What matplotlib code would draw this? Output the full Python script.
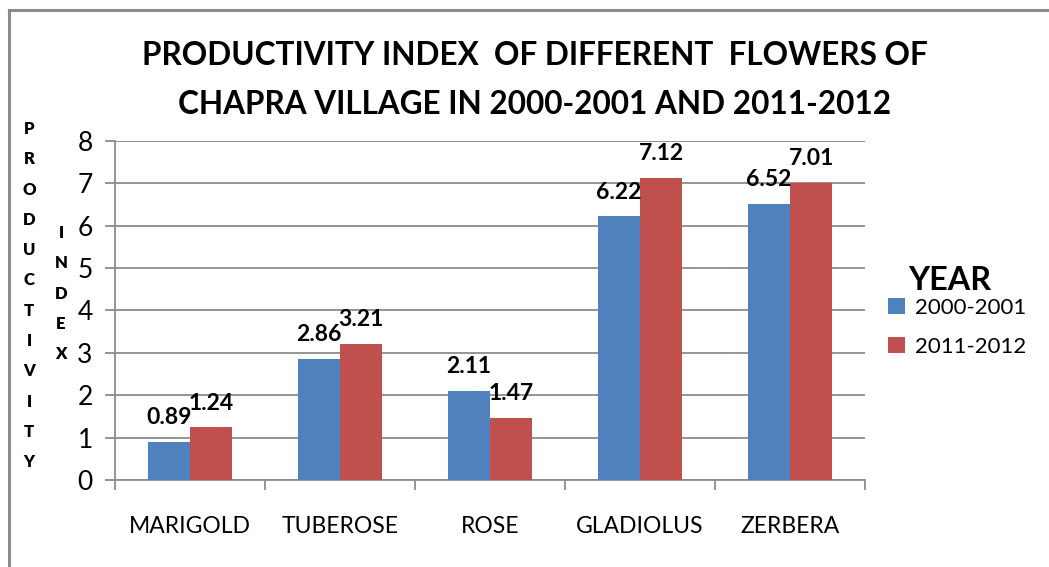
import matplotlib.pyplot as plt
import numpy as np

flowers = ['MARIGOLD', 'TUBEROSE', 'ROSE', 'GLADIOLUS', 'ZERBERA']
y2000 = [0.89, 2.86, 2.11, 6.22, 6.52]
y2011 = [1.24, 3.21, 1.47, 7.12, 7.01]
years = ['2000-2001', '2011-2012']

plt.rcParams['font.family'] = ['Lato', 'DejaVu Sans']

blue = '#4F81BD'
red = '#C0504D'
gray = '#8C8C8C'

fig = plt.figure(figsize=(10.49, 5.67), dpi=100)
ax = fig.add_axes([0.1096, 0.1534, 0.715, 0.598])

x = np.arange(len(flowers))
w = 0.283
b1 = ax.bar(x - w / 2, y2000, w, color=blue, label=years[0], zorder=3)
b2 = ax.bar(x + w / 2, y2011, w, color=red, label=years[1], zorder=3)

for bars, vals in [(b1, y2000), (b2, y2011)]:
    for r, v in zip(bars, vals):
        ax.annotate(f'{v:.2f}', (r.get_x() + r.get_width() / 2, v),
                    xytext=(0, 10), textcoords='offset points',
                    ha='center', va='bottom', fontsize=16.5, fontweight='bold', zorder=4)

ax.set_xlim(-0.5, 4.5)
ax.set_ylim(0, 8)
ax.set_yticks(range(0, 9))
ax.set_xticks(x)
ax.set_xticklabels(flowers, fontsize=16.5)
ax.set_xticks(np.arange(-0.5, 5, 1), minor=True)
ax.tick_params(axis='x', which='major', length=0, pad=26)
ax.tick_params(axis='x', which='minor', length=7, color=gray, width=1.3)
ax.tick_params(axis='y', length=7, color=gray, width=1.3, labelsize=19, pad=9)
ax.yaxis.grid(True, color=gray, linewidth=1.3, zorder=0)

for s in ['top', 'right']:
    ax.spines[s].set_visible(False)
for s in ['left', 'bottom']:
    ax.spines[s].set_color(gray)
    ax.spines[s].set_linewidth(1.3)

fig.text(0.51, 1 - 80 / 567, 'PRODUCTIVITY INDEX  OF DIFFERENT  FLOWERS OF\nCHAPRA VILLAGE IN 2000-2001 AND 2011-2012',
         ha='center', va='center', fontsize=22.7, fontweight='bold', linespacing=1.8)

# stacked y label letters
word1 = 'PRODUCTIVITY'
for i, ch in enumerate(word1):
    fig.text(29 / 1049, 1 - (129 + i * 30.3) / 567, ch, ha='center', va='center',
             fontsize=12, fontweight='heavy')
word2 = 'INDEX'
for i, ch in enumerate(word2):
    fig.text(61 / 1049, 1 - (233 + i * 30.3) / 567, ch, ha='center', va='center',
             fontsize=12, fontweight='heavy')

leg = ax.legend(loc='upper left', bbox_to_anchor=(888 / 1049, 1 - 298 / 567),
                bbox_transform=fig.transFigure, frameon=False,
                fontsize=16, handlelength=0.75, handleheight=0.75, handletextpad=0.45,
                labelspacing=0.84, borderaxespad=0, borderpad=0)
fig.text(950 / 1049, 1 - 281 / 567, 'YEAR', ha='center', va='center',
         fontsize=23.3, fontweight='bold')

# outer frame
fig.add_artist(plt.Line2D([9 / 1049, 9 / 1049], [0, 1 - 10 / 567], color=gray, lw=2.2))
fig.add_artist(plt.Line2D([9 / 1049, 1], [1 - 10 / 567, 1 - 10 / 567], color=gray, lw=2.2))

fig.savefig('out.png', dpi=100)
